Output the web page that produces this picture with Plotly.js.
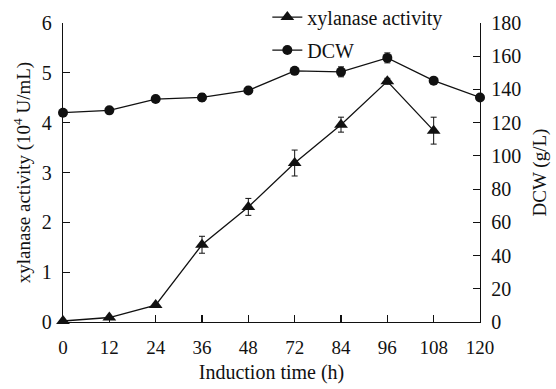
<!DOCTYPE html>
<html>
<head>
<meta charset="utf-8">
<script src="https://cdn.plot.ly/plotly-3.0.1.min.js"></script>
<style>html,body{margin:0;padding:0;background:#fff;}#chart{width:556px;height:389px;}</style>
</head>
<body>
<div id="chart"></div>
<script>
const timeLabels = ["0","12","24","36","48","72","84","96","108","120"];
const xylanaseActivity = [0.02, 0.09, 0.34, 1.55, 2.31, 3.19, 3.96, 4.83, 3.84];
const xylanaseError = [0, 0, 0, 0.17, 0.17, 0.26, 0.15, 0.06, 0.27];
const dcw = [126, 127.4, 134.2, 135.2, 139.4, 151.2, 150.6, 159, 145.3, 135.2];
const dcwError = [0, 0, 0, 2.2, 0, 0, 3, 3, 0, 0];

const idx = timeLabels.map((_, i) => i);
const fam = "Liberation Serif, Times New Roman, serif";
const f = s => ({family: fam, size: s, color: "#111"});

const traces = [
  {
    x: idx.slice(0, xylanaseActivity.length), y: xylanaseActivity,
    name: "xylanase activity", type: "scatter", mode: "lines+markers",
    line: {color: "#111", width: 1.3},
    marker: {symbol: "triangle-up", size: 12, color: "#111"},
    error_y: {type: "data", array: xylanaseError, visible: true, color: "#111", thickness: 1, width: 3},
    cliponaxis: false, legendgroup: "a"
  },
  {
    x: idx, y: dcw, yaxis: "y2",
    name: "DCW", type: "scatter", mode: "lines+markers",
    line: {color: "#111", width: 1.3},
    marker: {symbol: "circle", size: 10, color: "#111"},
    error_y: {type: "data", array: dcwError, visible: true, color: "#111", thickness: 1, width: 3},
    cliponaxis: false, legendgroup: "b"
  }
];

const layout = {
  width: 556, height: 389,
  margin: {l: 63, r: 76, t: 23, b: 67, autoexpand: false},
  paper_bgcolor: "#fff", plot_bgcolor: "#fff",
  font: f(19),
  showlegend: true,
  legend: {x: 0.49, y: 1.085, xanchor: "left", yanchor: "top", bgcolor: "rgba(0,0,0,0)",
           font: f(20), traceorder: "grouped", tracegroupgap: 4, itemwidth: 30},
  xaxis: {
    range: [0, 9], tickmode: "array", tickvals: idx, ticktext: timeLabels,
    showline: true, linecolor: "#111", linewidth: 1.2,
    ticks: "inside", ticklen: 7, tickcolor: "#111", tickwidth: 1.2,
    showgrid: false, zeroline: false, ticklabelstandoff: 8,
    tickfont: f(19),
    title: {text: "Induction time (h)", font: f(20), standoff: 8}
  },
  yaxis: {
    range: [0, 6], dtick: 1,
    showline: true, linecolor: "#111", linewidth: 1.2,
    ticks: "inside", ticklen: 7, tickcolor: "#111", tickwidth: 1.2,
    showgrid: false, zeroline: false, ticklabelstandoff: 6,
    tickfont: f(20),
    title: {text: "xylanase activity (10<sup>4</sup> U/mL)", font: f(19), standoff: 6}
  },
  yaxis2: {
    range: [0, 180], dtick: 20, overlaying: "y", side: "right",
    showline: true, linecolor: "#111", linewidth: 1.2,
    ticks: "inside", ticklen: 7, tickcolor: "#111", tickwidth: 1.2,
    showgrid: false, zeroline: false, ticklabelstandoff: 6,
    tickfont: f(20),
    title: {text: "DCW (g/L)", font: f(19), standoff: 12}
  }
};

Plotly.newPlot("chart", traces, layout, {displayModeBar: false, staticPlot: true});
</script>
</body>
</html>
